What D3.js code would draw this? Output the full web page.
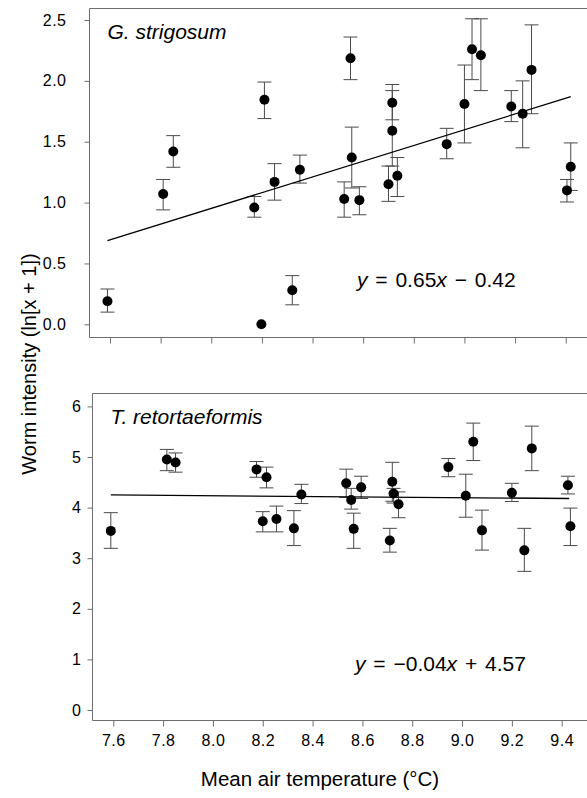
<!DOCTYPE html>
<html>
<head>
<meta charset="utf-8">
<script src="https://cdn.jsdelivr.net/npm/d3@7"></script>
<style>
  html, body { margin: 0; padding: 0; background: #fff; }
  svg { display: block; font-family: "Liberation Sans", Arial, Helvetica, sans-serif; }
</style>
</head>
<body>
<svg id="chart" width="587" height="798"></svg>
<script>
// ---- Data: G. strigosum (top panel) ----
const gsTemp = [7.59, 7.81, 7.85, 8.17, 8.198, 8.21, 8.25, 8.32, 8.35, 8.525, 8.55, 8.555, 8.585, 8.70, 8.715, 8.715, 8.735, 8.93, 9.00, 9.03, 9.065, 9.185, 9.23, 9.265, 9.405, 9.42];
const gsMean = [0.19, 1.07, 1.42, 0.96, 0.00, 1.845, 1.17, 0.28, 1.27, 1.03, 2.186, 1.37, 1.02, 1.15, 1.82, 1.59, 1.22, 1.48, 1.81, 2.26, 2.21, 1.79, 1.73, 2.09, 1.10, 1.295];
const gsHi   = [0.29, 1.19, 1.55, 1.05, 0.00, 1.99, 1.32, 0.40, 1.39, 1.17, 2.36, 1.62, 1.13, 1.30, 1.97, 1.92, 1.37, 1.61, 2.13, 2.51, 2.51, 1.92, 2.00, 2.46, 1.19, 1.49];
const gsLo   = [0.10, 0.94, 1.29, 0.88, 0.00, 1.69, 1.02, 0.16, 1.16, 0.88, 2.01, 1.12, 0.90, 1.01, 1.68, 1.30, 1.05, 1.36, 1.49, 2.01, 1.92, 1.665, 1.45, 1.73, 1.005, 1.10];
const gsFitX = [7.59, 9.42];
const gsFitY = [0.687, 1.87];

// ---- Data: T. retortaeformis (bottom panel) ----
const trTemp = [7.59, 7.815, 7.85, 8.175, 8.20, 8.215, 8.255, 8.325, 8.355, 8.535, 8.555, 8.565, 8.595, 8.71, 8.72, 8.725, 8.745, 8.945, 9.015, 9.045, 9.08, 9.20, 9.25, 9.28, 9.425, 9.435];
const trMean = [3.54, 4.95, 4.89, 4.755, 3.73, 4.60, 3.775, 3.59, 4.26, 4.48, 4.15, 3.58, 4.40, 3.35, 4.51, 4.28, 4.065, 4.80, 4.235, 5.30, 3.55, 4.295, 3.155, 5.17, 4.44, 3.63];
const trHi   = [3.90, 5.15, 5.08, 4.91, 3.92, 4.80, 4.03, 3.94, 4.46, 4.76, 4.38, 3.89, 4.62, 3.59, 4.895, 4.38, 4.31, 4.97, 4.66, 5.67, 3.95, 4.48, 3.59, 5.61, 4.62, 3.99];
const trLo   = [3.195, 4.73, 4.70, 4.60, 3.52, 4.39, 3.52, 3.25, 4.08, 4.20, 3.97, 3.195, 4.18, 3.12, 4.125, 4.09, 3.80, 4.61, 3.81, 4.93, 3.16, 4.12, 2.74, 4.73, 4.27, 3.25];
const trFitX = [7.59, 9.43];
const trFitY = [4.25, 4.18];

// ---- Tick labels ----
const xTicks = [7.6, 7.8, 8.0, 8.2, 8.4, 8.6, 8.8, 9.0, 9.2, 9.4];
const yTicksTop = [0.0, 0.5, 1.0, 1.5, 2.0, 2.5];
const yTicksBot = [0, 1, 2, 3, 4, 5, 6];

const svg = d3.select("#chart");
const frameColor = "#6e6e6e";
const barColor = "#4a4a4a";

function panel(cfg) {
  const g = svg.append("g");
  const x = d3.scaleLinear().domain([7.6, 9.4]).range(cfg.xRange);
  const y = d3.scaleLinear().domain(cfg.yDomain).range(cfg.yRange);

  // frame (left, top, bottom)
  g.append("path")
    .attr("d", `M600,${cfg.top}H${cfg.left}V${cfg.bottom}H600`)
    .attr("fill", "none").attr("stroke", frameColor).attr("stroke-width", 1);

  // y axis
  const ya = d3.axisLeft(y).tickValues(cfg.yTicks).tickSize(5).tickPadding(cfg.yPad)
    .tickFormat(cfg.yFmt);
  const yg = g.append("g").attr("transform", `translate(${cfg.left},0)`).call(ya);
  yg.select(".domain").remove();
  yg.selectAll(".tick line").attr("stroke", frameColor);
  yg.selectAll(".tick text").attr("font-size", 16).attr("fill", "#000")
    .attr("letter-spacing", 0.5)
    .attr("font-family", "Liberation Sans, Arial, sans-serif");

  // x axis
  const xa = d3.axisBottom(x).tickValues(xTicks).tickSize(6).tickPadding(8)
    .tickFormat(cfg.showX ? d3.format(".1f") : () => "");
  const xg = g.append("g").attr("transform", `translate(0,${cfg.bottom})`).call(xa);
  xg.select(".domain").remove();
  xg.selectAll(".tick line").attr("stroke", frameColor);
  xg.selectAll(".tick text").attr("font-size", 16).attr("fill", "#000")
    .attr("letter-spacing", 0.5)
    .attr("font-family", "Liberation Sans, Arial, sans-serif");

  const data = cfg.temp.map((t, i) => ({t, m: cfg.mean[i], hi: cfg.hi[i], lo: cfg.lo[i]}));

  // error bars
  const eb = g.append("g").attr("stroke", barColor).attr("stroke-width", 1).attr("fill", "none");
  data.filter(d => d.hi > d.lo).forEach(d => {
    const cx = x(d.t);
    eb.append("line").attr("x1", cx).attr("x2", cx).attr("y1", y(d.hi)).attr("y2", y(d.lo));
    eb.append("line").attr("x1", cx - 7).attr("x2", cx + 7).attr("y1", y(d.hi)).attr("y2", y(d.hi));
    eb.append("line").attr("x1", cx - 7).attr("x2", cx + 7).attr("y1", y(d.lo)).attr("y2", y(d.lo));
  });

  // regression line
  const line = d3.line().x(d => x(d[0])).y(d => y(d[1]));
  g.append("path").datum(cfg.fitX.map((v, i) => [v, cfg.fitY[i]]))
    .attr("d", line).attr("fill", "none").attr("stroke", "#000").attr("stroke-width", 1.3);

  // points
  g.append("g").selectAll("circle").data(data).join("circle")
    .attr("cx", d => x(d.t)).attr("cy", d => y(d.m)).attr("r", 5).attr("fill", "#000");

  // species label
  g.append("text").attr("x", cfg.left + 18).attr("y", cfg.top + 30)
    .attr("font-size", 21).attr("font-style", "italic").text(cfg.species);

  // equation
  const eq = g.append("text").attr("x", cfg.eqX).attr("y", cfg.eqY).attr("font-size", 21)
    .attr("word-spacing", 2);
  eq.append("tspan").attr("font-style", "italic").text("y");
  eq.append("tspan").text(" = " + cfg.eqA);
  eq.append("tspan").attr("font-style", "italic").text("x");
  eq.append("tspan").text(cfg.eqB);
}

panel({
  xRange: [110, 565.7], yDomain: [0, 2.5], yRange: [324.3, 20],
  left: 89.5, top: 8.5, bottom: 337.5, yTicks: yTicksTop, yPad: 18,
  yFmt: d3.format(".1f"), showX: false,
  temp: gsTemp, mean: gsMean, hi: gsHi, lo: gsLo, fitX: gsFitX, fitY: gsFitY,
  species: "G. strigosum", eqX: 357, eqY: 287, eqA: "0.65", eqB: " \u2212 0.42"
});

panel({
  xRange: [113.3, 561.7], yDomain: [0, 6], yRange: [710, 406.4],
  left: 92.5, top: 393.5, bottom: 720.5, yTicks: yTicksBot, yPad: 6,
  yFmt: d3.format("d"), showX: true,
  temp: trTemp, mean: trMean, hi: trHi, lo: trLo, fitX: trFitX, fitY: trFitY,
  species: "T. retortaeformis", eqX: 355, eqY: 671, eqA: "\u22120.04", eqB: " + 4.57"
});

// axis titles
svg.append("text").attr("x", 320).attr("y", 786).attr("text-anchor", "middle")
  .attr("font-size", 20.5).text("Mean air temperature (\u00B0C)");
svg.append("text").attr("transform", "translate(36,364) rotate(-90)")
  .attr("text-anchor", "middle").attr("font-size", 20)
  .text("Worm intensity (ln[x + 1])");
</script>
</body>
</html>
